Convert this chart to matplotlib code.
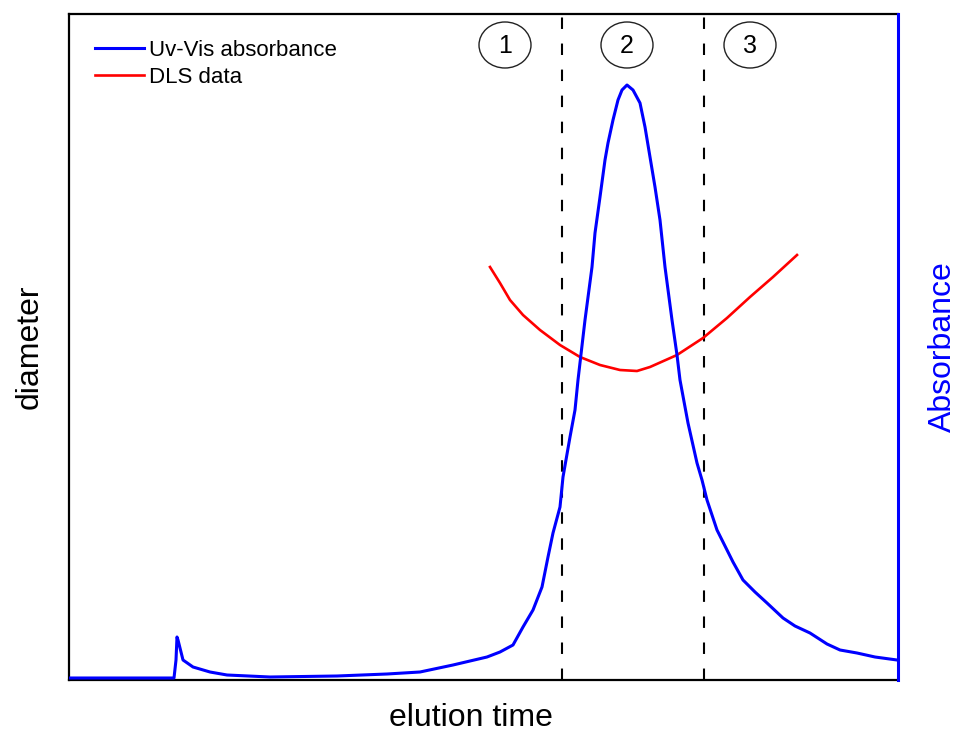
import matplotlib
matplotlib.use("Agg")
import matplotlib.pyplot as plt
from matplotlib.patches import Ellipse

plt.rcParams['font.family'] = ['Liberation Sans', 'DejaVu Sans']

# ---- data (arbitrary units) ----
uv_time = [0, 51, 105, 107, 108, 109, 114, 124, 141, 158, 201, 268, 318, 351, 384, 418, 431, 444,
           454, 464, 473, 479, 484, 491, 494, 501, 506, 509, 516, 523, 526, 531, 536, 539, 544,
           549, 553, 558, 564, 571, 576, 581, 586, 591, 596, 603, 608, 611, 619, 628, 633, 638, 648,
           658, 664, 674, 686, 698, 714, 726, 741, 758, 771, 788, 806, 828]
uv_abs = [2, 2, 2, 20, 43, 40, 20, 13, 8, 5, 3, 4, 6, 8, 15, 23, 28, 35,
          53, 70, 93, 123, 147, 173, 203, 243, 270, 300, 360, 413, 447, 483, 520, 537, 560,
          580, 590, 595, 590, 577, 553, 523, 493, 460, 413, 360, 325, 300, 257, 217, 200, 180, 150,
          130, 118, 100, 88, 77, 62, 54, 47, 36, 30, 27, 23, 20]

dls_time = [421, 431, 441, 454, 471, 491, 511, 531, 551, 568, 581, 608, 634, 658, 681, 704, 728]
dls_diam = [413, 397, 380, 365, 350, 335, 323, 315, 310, 309, 313, 325, 342, 362, 383, 403, 425]

fraction_bounds = [493, 635]
fraction_labels = ["1", "2", "3"]
fraction_centers = [436, 558, 681]

# ---- figure ----
fig = plt.figure(figsize=(9.58, 7.35), dpi=100)
ax = fig.add_axes([69 / 958, 55 / 735, 829 / 958, 666 / 735])
ax2 = ax.twinx()

ax.set_xlim(0, 829)
ax.set_ylim(0, 666)
ax2.set_ylim(0, 666)

for b in fraction_bounds:
    ax.axvline(b, color='black', lw=1.5, dashes=(5.5, 7), zorder=1)

red_line, = ax.plot(dls_time, dls_diam, color='#ff0000', lw=1.9, label='DLS data', zorder=3)
blue_line, = ax2.plot(uv_time, uv_abs, color='#0000ff', lw=2.2, label='Uv-Vis absorbance', zorder=3)

for lab, cx in zip(fraction_labels, fraction_centers):
    ax.add_patch(Ellipse((cx, 635), 52, 46, facecolor='white', edgecolor='#222222', lw=1.0, zorder=4))
    ax.text(cx, 634, lab, ha='center', va='center', fontsize=18, zorder=5)

# spines / ticks
for a in (ax, ax2):
    a.set_xticks([])
    a.set_yticks([])
for s in ['left', 'top', 'bottom']:
    ax.spines[s].set_color('black')
    ax.spines[s].set_linewidth(1.6)
ax.spines['right'].set_visible(False)
for s in ['left', 'top', 'bottom']:
    ax2.spines[s].set_visible(False)
ax2.spines['right'].set_color('#0000ff')
ax2.spines['right'].set_linewidth(2.2)

ax.set_xlabel('elution time', fontsize=23)
ax.xaxis.set_label_coords(0.485, -0.057)
ax.xaxis.label.set_va('center')

ax.set_ylabel('diameter', fontsize=23)
ax.yaxis.set_label_coords(-0.048, 0.5)
ax.yaxis.label.set_va('center')

ax2.set_ylabel('Absorbance', fontsize=23, color='#0000ff', rotation=90)
ax2.yaxis.set_label_coords(1.054, 0.5)
ax2.yaxis.label.set_va('center')

leg = ax.legend(handles=[blue_line, red_line], loc='upper left',
                bbox_to_anchor=((95 - 69) / 829, (680 - 40) / 666),
                frameon=False, fontsize=16, handlelength=2.2, handletextpad=0.25,
                labelspacing=0.28, borderpad=0, borderaxespad=0)

fig.savefig('out.png', dpi=100)
